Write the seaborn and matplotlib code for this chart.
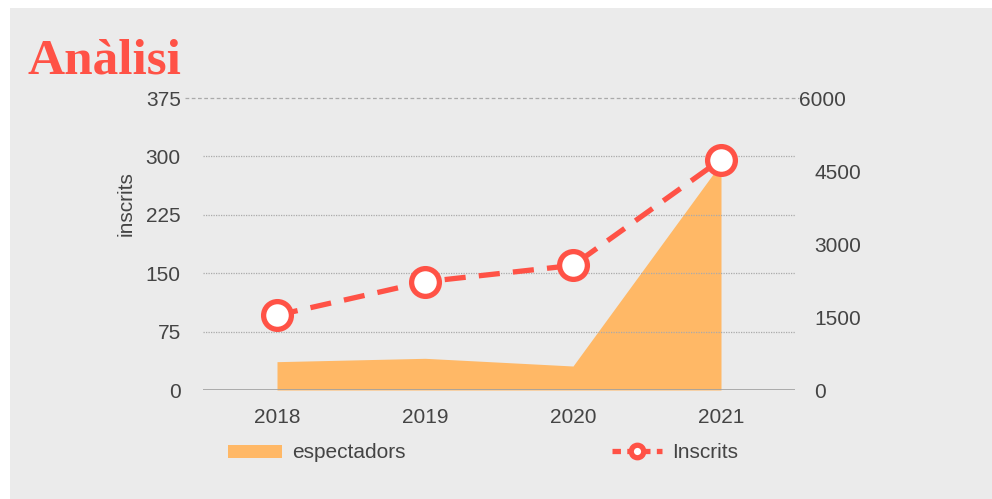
import matplotlib
matplotlib.use("Agg")
import matplotlib.pyplot as plt
import matplotlib.transforms as mtransforms
import seaborn as sns
import pandas as pd
from matplotlib.patches import Rectangle, Patch
from matplotlib.lines import Line2D

years = ["2018", "2019", "2020", "2021"]
inscrits = [96, 139, 160, 296]
espectadors = [582, 651, 493, 4660]

left_ticks = [0, 75, 150, 225, 300, 375]
right_ticks = [0, 1500, 3000, 4500, 6000]

df = pd.DataFrame({"year": years, "x": range(len(years)),
                   "inscrits": inscrits, "espectadors": espectadors})

sns.set_theme(style="white")
plt.rcParams["font.family"] = ["Liberation Sans", "DejaVu Sans"]

BG = "#EBEBEB"
LINE = "#FF5246"
AREA = "#FFB866"
TXT = "#444444"
FS = 15

fig = plt.figure(figsize=(9.92, 4.99), dpi=100, facecolor="white")
fig.patches.append(Rectangle((10/992, 0), 1 - 10/992, 1 - 8/499,
                             transform=fig.transFigure, facecolor=BG,
                             edgecolor="none", zorder=-10))

ax = fig.add_axes([203/992, 109/499, 592/992, 292/499])
ax.set_facecolor("none")
ax2 = ax.twinx()
ax2.set_facecolor("none")

# area on the right axis
ax2.fill_between(df["x"], df["espectadors"], 0, color=AREA, linewidth=0, zorder=1)
ax2.set_ylim(0, 6000)
ax2.set_yticks(right_ticks)
ax2.set_yticklabels([str(t) for t in right_ticks])

ax.set_zorder(ax2.get_zorder() + 1)

sns.lineplot(data=df, x="x", y="inscrits", ax=ax, color=LINE, linewidth=3.8,
             marker="o", markersize=20, markerfacecolor="white",
             markeredgecolor=LINE, markeredgewidth=3.8, zorder=5)
ax.lines[-1].set_dashes([4, 2.5])
ax.lines[-1].set_clip_on(False)

ax.set_xlim(-0.5, 3.5)
ax.set_ylim(0, 375)
ax.set_yticks(left_ticks)
ax.set_yticklabels([str(t) for t in left_ticks])
ax.set_xticks(df["x"])
ax.set_xticklabels(years)
ax.set_xlabel("")
ax.set_ylabel("inscrits", color=TXT, fontsize=FS)
ax.yaxis.set_label_coords(-67/592, (390 - 204) / 292)

for t in [75, 150, 225, 300]:
    ax.axhline(t, color="#AAAAAA", linestyle=(0, (1, 1)), linewidth=0.9, zorder=0)
ax.plot([-0.62, 3.53], [375, 375], color="#AAAAAA", linestyle=(0, (3, 2)),
        linewidth=0.9, clip_on=False, zorder=0)
ax.axhline(0, color="#A0A0A0", linewidth=1.2, zorder=6)

for a in (ax, ax2):
    for s in a.spines.values():
        s.set_visible(False)
    a.tick_params(length=0, colors=TXT, labelsize=FS)
ax.tick_params(axis="y", pad=16)
ax.tick_params(axis="x", pad=13)
ax2.tick_params(axis="y", pad=14)

# top right label sits a bit further left, as in the original
fig.canvas.draw()
lbl = ax2.get_yticklabels()[-1]
lbl.set_transform(lbl.get_transform() +
                  mtransforms.ScaledTranslation(-15/100, 0, fig.dpi_scale_trans))

fig.text(27/992, 1 - 73/499, "Anàlisi", fontsize=37, fontweight="bold",
         color=LINE, family=["Liberation Serif", "DejaVu Serif"])

handles = [Patch(facecolor=AREA, edgecolor="none", label="espectadors")]
fig.legend(handles=handles, loc="center left", bbox_to_anchor=(209/992, 1 - 453/499),
           frameon=False, fontsize=FS, handlelength=2.6, handleheight=0.6,
           handletextpad=0.5, labelcolor=TXT)
lh = [Line2D([0], [0], color=LINE, linewidth=3.8, dashes=[1.6, 1.2],
             marker="o", markersize=9, markerfacecolor="white",
             markeredgecolor=LINE, markeredgewidth=3.8, label="Inscrits")]
fig.legend(handles=lh, loc="center left", bbox_to_anchor=(593/992, 1 - 453/499),
           frameon=False, fontsize=FS, handlelength=2.4,
           handletextpad=0.5, labelcolor=TXT)

fig.savefig("out.png", dpi=100, facecolor="white")
